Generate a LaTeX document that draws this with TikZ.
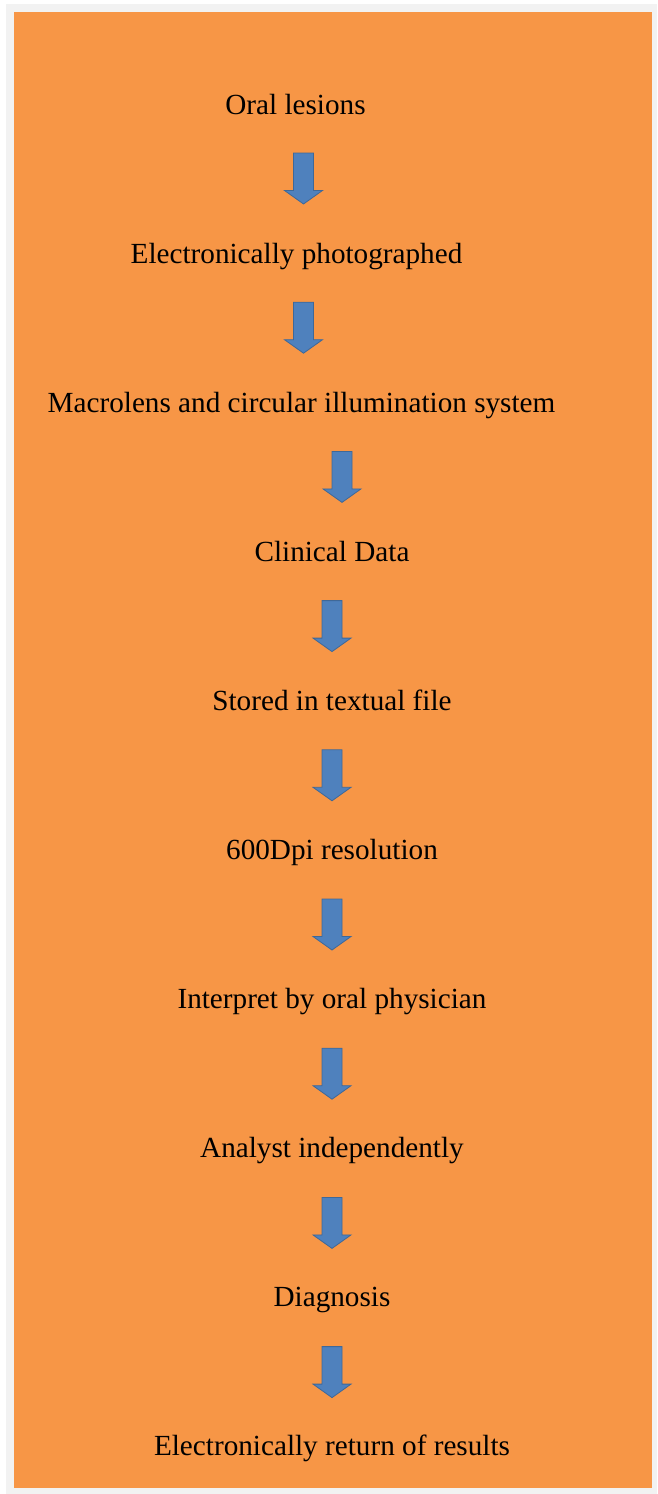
\documentclass[tikz,border=0pt]{standalone}
\usepackage{fontspec}
\setmainfont{Liberation Serif}
\definecolor{bgorange}{HTML}{F79646}
\definecolor{framegray}{HTML}{F2F2F2}
\definecolor{arrowfill}{HTML}{4F81BD}
\definecolor{arrowline}{HTML}{3F6898}
\tikzset{
  steptext/.style={anchor=base, inner sep=0pt, font=\fontsize{29.2}{34}\selectfont, text=black},
  blockarrow/.pic={
    \path[fill=arrowfill, draw=arrowline, line width=0.8pt, line join=miter]
      (-10,0) -- (10,0) -- (10,37.5) -- (19,37.5) -- (0,51) -- (-19,37.5) -- (-10,37.5) -- cycle;
  }
}
\begin{document}
\begin{tikzpicture}[x=1pt,y=-1pt]
\useasboundingbox (0,0) rectangle (657,1494);
\fill[white] (0,0) rectangle (657,1494);
\fill[framegray] (6,4) rectangle (657,1494);
\fill[bgorange] (14,12) rectangle (652,1488);
% texts
\node[steptext] (t0) at (295.5,114.0) {Oral lesions};
\node[steptext] (t1) at (296.5,263.1) {Electronically photographed};
\node[steptext] (t2) at (301.5,412.2) {Macrolens and circular illumination system};
\node[steptext] (t3) at (332,561.3) {Clinical Data};
\node[steptext] (t4) at (332,710.4) {Stored in textual file};
\node[steptext] (t5) at (332,859.5) {600Dpi resolution};
\node[steptext] (t6) at (332,1008.6) {Interpret by oral physician};
\node[steptext] (t7) at (332,1157.7) {Analyst independently};
\node[steptext] (t8) at (332,1306.8) {Diagnosis};
\node[steptext] (t9) at (332,1455.9) {Electronically return of results};
% block arrows
\pic (a1) at (303.5,153) {blockarrow};
\pic (a2) at (303.5,302.2) {blockarrow};
\pic (a3) at (342,451.4) {blockarrow};
\pic (a4) at (332,600.6) {blockarrow};
\pic (a5) at (332,749.8) {blockarrow};
\pic (a6) at (332,899) {blockarrow};
\pic (a7) at (332,1048.2) {blockarrow};
\pic (a8) at (332,1197.4) {blockarrow};
\pic (a9) at (332,1346.6) {blockarrow};
\end{tikzpicture}
\end{document}
